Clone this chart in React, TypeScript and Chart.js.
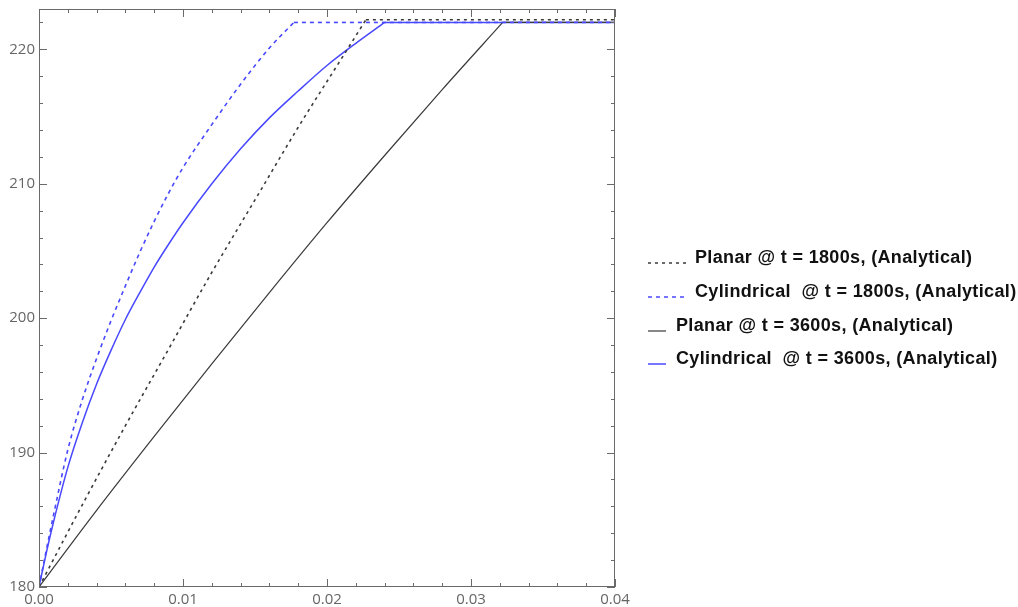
import { useEffect, useRef } from "react";
import { Chart, registerables } from "chart.js";

Chart.register(...registerables);

// Axis ticks
const xTicks = [0, 0.01, 0.02, 0.03, 0.04];
const yTicks = [180, 190, 200, 210, 220];
const xMinorStep = 0.002;
const yMinorStep = 2;

// Planar @ t = 1800s (black dashed)
const planar1800X = [0, 0.003, 0.006, 0.009, 0.012, 0.015, 0.018, 0.021, 0.0227, 0.04];
const planar1800Y = [180, 186.1, 192.0, 197.7, 203.4, 208.8, 214.2, 219.3, 222.2, 222.2];

// Cylindrical @ t = 1800s (blue dashed)
const cyl1800X = [0, 0.0005, 0.001, 0.002, 0.003, 0.004, 0.005, 0.006, 0.007, 0.008, 0.009, 0.01, 0.012, 0.014, 0.016, 0.0177, 0.04];
const cyl1800Y = [180, 182.7, 185.3, 190.2, 193.9, 197.0, 199.8, 202.4, 204.9, 207.2, 209.3, 211.2, 214.4, 217.4, 220.1, 222, 222];

// Planar @ t = 3600s (black solid)
const planar3600X = [0, 0.004, 0.008, 0.012, 0.016, 0.02, 0.024, 0.028, 0.0322, 0.04];
const planar3600Y = [180, 185.7, 191.2, 196.6, 201.9, 207.1, 212.1, 217.0, 222.0, 222.0];

// Cylindrical @ t = 3600s (blue solid)
const cyl3600X = [0, 0.0005, 0.001, 0.002, 0.003, 0.004, 0.005, 0.006, 0.007, 0.008, 0.009, 0.01, 0.012, 0.014, 0.016, 0.018, 0.02, 0.022, 0.024, 0.04];
const cyl3600Y = [180, 182.5, 184.8, 188.9, 192.2, 195.1, 197.6, 199.9, 201.9, 203.8, 205.5, 207.1, 210.0, 212.6, 214.9, 216.9, 218.8, 220.45, 222, 222];

const seriesLabels = [
  "Planar @ t = 1800s, (Analytical)",
  "Cylindrical  @ t = 1800s, (Analytical)",
  "Planar @ t = 3600s, (Analytical)",
  "Cylindrical  @ t = 3600s, (Analytical)",
];

const pts = (xs: number[], ys: number[]) => xs.map((x, i) => ({ x, y: ys[i] }));

const BLACK = "#3a3a3a";
const BLUE = "#4848ff";

const seriesStyles = [
  { color: BLACK, dash: [3, 4], width: 1.6 },
  { color: BLUE, dash: [4, 4], width: 1.6 },
  { color: BLACK, dash: [], width: 1.2 },
  { color: BLUE, dash: [], width: 1.5 },
];

const legendLayout = [
  { y: 258, x0: 648, x1: 688, tx: 695 },
  { y: 292, x0: 648, x1: 688, tx: 695 },
  { y: 326, x0: 648, x1: 666, tx: 676 },
  { y: 359, x0: 648, x1: 666, tx: 676 },
];

const framePlugin = {
  id: "frameTicks",
  afterDatasetsDraw(chart: any) {
    const { ctx, chartArea } = chart;
    const { left, right, top, bottom } = chartArea;
    const xs = chart.scales.x;
    const ys = chart.scales.y;
    ctx.save();
    ctx.strokeStyle = "#6a6a6a";
    ctx.lineWidth = 1;
    ctx.setLineDash([]);
    ctx.strokeRect(left + 0.5, top + 0.5, right - left - 1, bottom - top - 1);
    ctx.beginPath();
    const nx = Math.round((xs.max - xs.min) / xMinorStep);
    for (let i = 0; i <= nx; i++) {
      const v = xs.min + i * xMinorStep;
      const major = xTicks.some((t) => Math.abs(t - v) < 1e-9);
      const len = major ? 8 : 4;
      const px = Math.round(xs.getPixelForValue(v)) + 0.5;
      ctx.moveTo(px, bottom);
      ctx.lineTo(px, bottom - len);
      ctx.moveTo(px, top);
      ctx.lineTo(px, top + len);
    }
    const ny = Math.floor((ys.max - ys.min) / yMinorStep);
    for (let i = 0; i <= ny; i++) {
      const v = ys.min + i * yMinorStep;
      const major = yTicks.some((t) => Math.abs(t - v) < 1e-9);
      const len = major ? 8 : 4;
      const py = Math.round(ys.getPixelForValue(v)) + 0.5;
      ctx.moveTo(left, py);
      ctx.lineTo(left + len, py);
      ctx.moveTo(right, py);
      ctx.lineTo(right - len, py);
    }
    ctx.stroke();
    ctx.restore();
  },
  afterDraw(chart: any) {
    const { ctx } = chart;
    ctx.save();
    seriesLabels.forEach((label, i) => {
      const st = seriesStyles[i];
      const lay = legendLayout[i];
      ctx.strokeStyle = st.color;
      ctx.lineWidth = st.width;
      ctx.setLineDash(st.dash);
      ctx.beginPath();
      ctx.moveTo(lay.x0, lay.y + 5);
      ctx.lineTo(lay.x1, lay.y + 5);
      ctx.stroke();
      ctx.setLineDash([]);
      ctx.fillStyle = "#111";
      ctx.font = "bold 18px 'Liberation Sans', Arial, sans-serif";
      (ctx as any).letterSpacing = "0.35px";
      ctx.textAlign = "left";
      ctx.textBaseline = "middle";
      ctx.fillText(label, lay.tx, lay.y);
    });
    ctx.restore();
  },
};

export default function App() {
  const ref = useRef<HTMLCanvasElement | null>(null);
  useEffect(() => {
    if (!ref.current) return;
    const series = [
      pts(planar1800X, planar1800Y),
      pts(cyl1800X, cyl1800Y),
      pts(planar3600X, planar3600Y),
      pts(cyl3600X, cyl3600Y),
    ];
    const datasets: any[] = [];
    series.forEach((d, i) => {
      const maxY = Math.max(...d.map((p) => p.y));
      const k = d.findIndex((p) => p.y === maxY);
      const base = {
        showLine: true,
        borderColor: seriesStyles[i].color,
        borderWidth: seriesStyles[i].width,
        borderDash: seriesStyles[i].dash,
        pointRadius: 0,
        pointHoverRadius: 0,
        fill: false,
      };
      // rising part (smooth) and plateau (straight), same series style
      datasets.push({ ...base, label: seriesLabels[i], data: d.slice(0, k + 1), cubicInterpolationMode: "monotone" });
      datasets.push({ ...base, label: seriesLabels[i] + " plateau", data: d.slice(k), tension: 0 });
    });
    const tickFont = { family: "'Open Sans', sans-serif", size: 15 };
    const chart = new Chart(ref.current, {
      type: "scatter",
      data: { datasets },
      options: {
        animation: false,
        responsive: false,
        devicePixelRatio: 1,
        layout: { padding: { left: 0, top: 9, right: 403, bottom: 0 } },
        plugins: { legend: { display: false }, tooltip: { enabled: false } },
        scales: {
          x: {
            type: "linear",
            min: 0,
            max: 0.04,
            afterBuildTicks: (s: any) => {
              s.ticks = xTicks.map((v) => ({ value: v }));
            },
            afterFit: (s: any) => {
              s.height = 20;
              s.paddingLeft = 0;
              s.paddingRight = 0;
            },
            grid: { display: false, drawTicks: false },
            border: { display: false },
            ticks: {
              callback: (v: any) => Number(v).toFixed(2),
              font: tickFont,
              color: "#666",
              padding: 4,
              maxRotation: 0,
              autoSkip: false,
            },
          },
          y: {
            type: "linear",
            min: 180,
            max: 223,
            afterBuildTicks: (s: any) => {
              s.ticks = yTicks.map((v) => ({ value: v }));
            },
            afterFit: (s: any) => {
              s.width = 39;
              s.paddingTop = 0;
              s.paddingBottom = 0;
            },
            grid: { display: false, drawTicks: false },
            border: { display: false },
            ticks: {
              callback: (v: any) => String(v),
              font: tickFont,
              color: "#666",
              padding: 4,
              autoSkip: false,
            },
          },
        },
      },
      plugins: [framePlugin],
    });
    return () => chart.destroy();
  }, []);
  return (
    <div style={{ position: "absolute", left: 0, top: 0, width: 1018, height: 607, background: "#fff" }}>
      <canvas ref={ref} width={1018} height={607} style={{ width: 1018, height: 607, display: "block" }} />
    </div>
  );
}
